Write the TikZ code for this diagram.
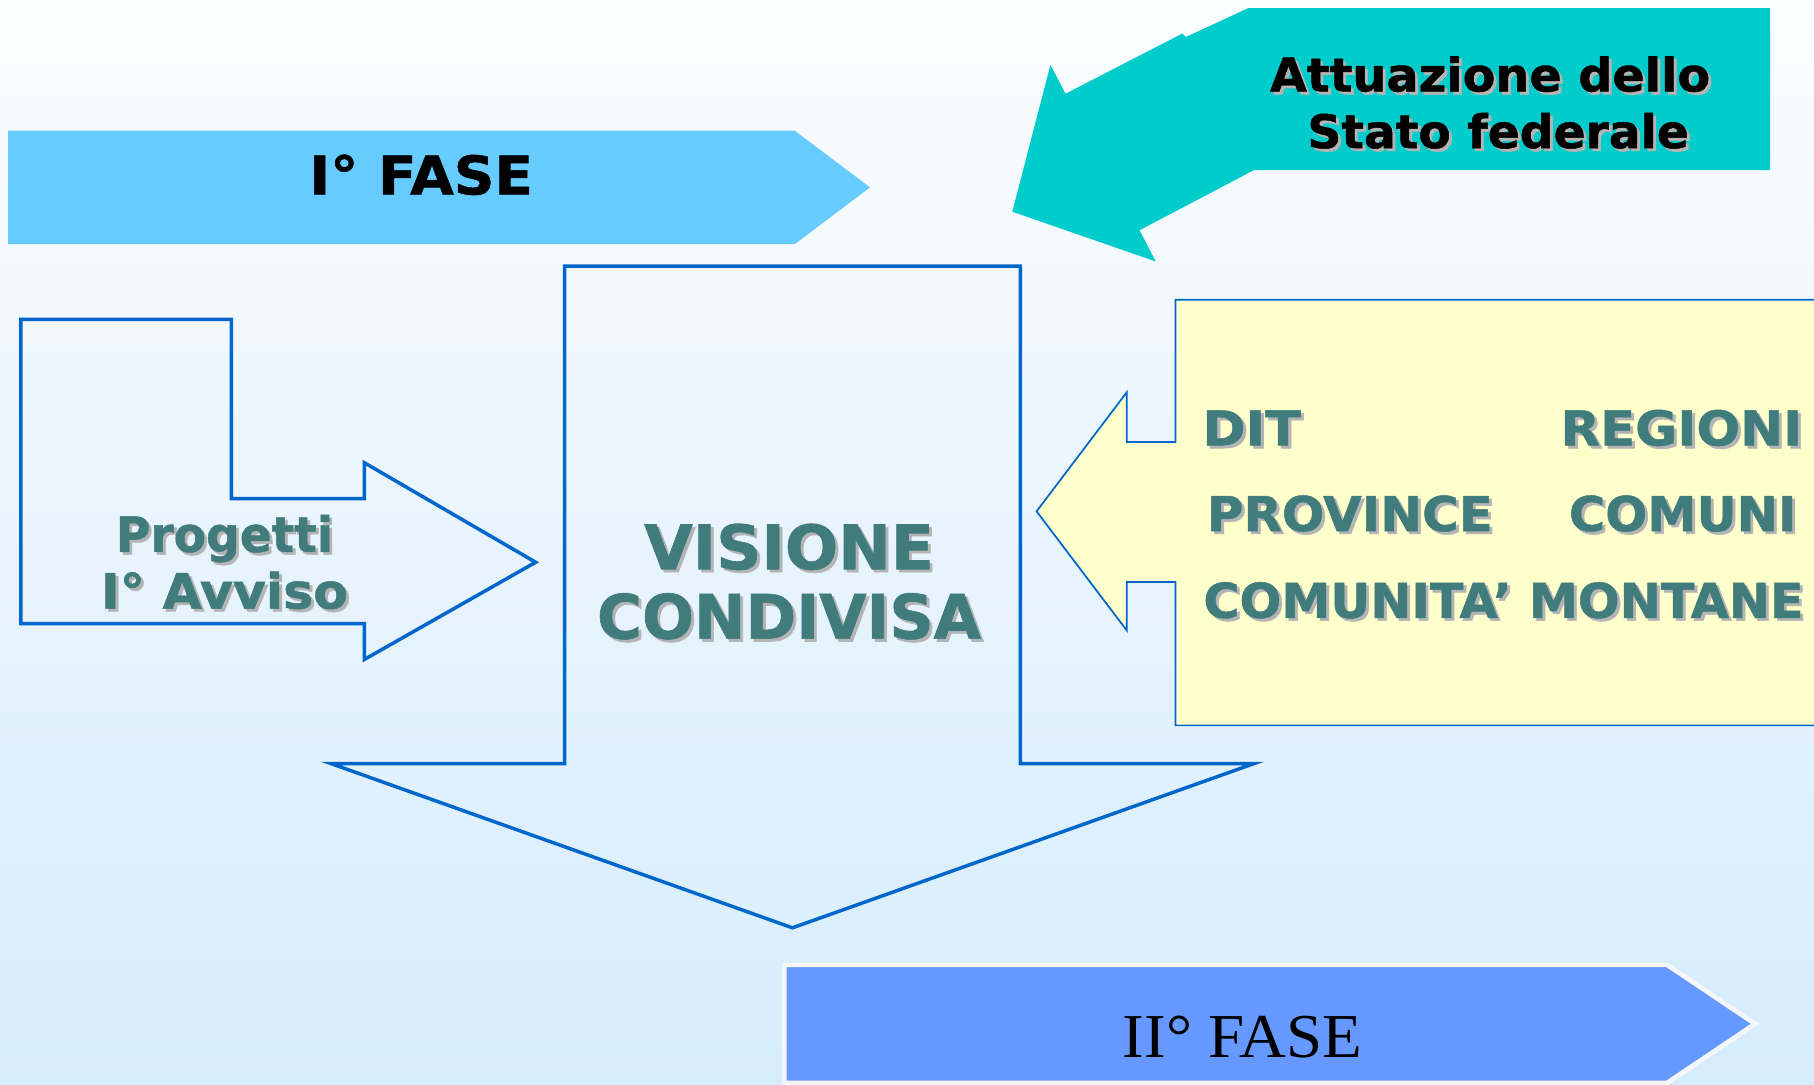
\documentclass[tikz,border=0pt]{standalone}
\usepackage{fontspec}
\setmainfont{DejaVu Sans}
\newfontfamily\vbold[FakeBold=1]{DejaVu Sans Bold}
\newfontfamily\timesf{Liberation Serif}
\definecolor{bgtop}{HTML}{FCFDFE}
\definecolor{bgbot}{HTML}{D5ECFD}
\definecolor{faseone}{HTML}{66CCFF}
\definecolor{fasetwo}{HTML}{6699FF}
\definecolor{cyanarrow}{HTML}{00CCCC}
\definecolor{yellowbox}{HTML}{FFFFCC}
\definecolor{bluestroke}{HTML}{0066CC}
\definecolor{tealtext}{HTML}{407C7C}
\definecolor{shcol}{HTML}{B4B4B4}
\definecolor{whiteborder}{HTML}{F4F6F8}
\newcommand{\shad}[2]{\scalebox{#1}[1]{\leavevmode\rlap{\kern2.5pt\raisebox{-2.5pt}{\color{shcol}#2}}#2}}
\begin{document}
\begin{tikzpicture}[x=1pt,y=-1pt,line join=miter,
  outlinearrow/.style={draw=bluestroke,line width=3pt},
  boldtxt/.style={inner sep=0pt},
  tealtxt/.style={boldtxt,text=tealtext}]
\useasboundingbox (0,0) rectangle (1568,937);
\shade[top color=bgtop,bottom color=bgbot] (0,0) rectangle (1568,937);

% I FASE
\fill[faseone] (7,113) -- (687,113) -- (752,162) -- (687,211) -- (7,211) -- cycle;
\node[boldtxt,anchor=base,font=\fontsize{46}{54}\vbold] (fase1txt) at (364,168) {\scalebox{1.06}[1]{I° FASE}};

% cyan arrow
\fill[cyanarrow] (1079,7) -- (1530,7) -- (1530,147) -- (1084,147) -- (985,199) -- (999,226)
  -- (875,183) -- (908,56) -- (921,81) -- (1022,29) -- (1025,32) -- cycle;
\node[boldtxt,anchor=base,font=\fontsize{40}{48}\vbold] (attl1) at (1288,79) {\shad{1.03}{Attuazione dello}};
\node[boldtxt,anchor=base,font=\fontsize{40}{48}\vbold] (attl2) at (1295,128) {\shad{1.02}{Stato federale}};

% yellow callout
\draw[fill=yellowbox,draw=bluestroke,line width=1.5pt] (1580,259) -- (1016,259) -- (1016,382) -- (974,382)
  -- (974,339) -- (896,442) -- (974,545) -- (974,503) -- (1016,503) -- (1016,627) -- (1580,627);
\node[tealtxt,anchor=base west,font=\fontsize{41.5}{48}\vbold] (dit) at (1039,385) {\shad{1.09}{DIT}};
\node[tealtxt,anchor=base east,font=\fontsize{41.5}{48}\vbold] (regioni) at (1558,385) {\shad{1.07}{REGIONI}};
\node[tealtxt,anchor=base west,font=\fontsize{41.5}{48}\vbold] (province) at (1043,459) {\shad{1.04}{PROVINCE}};
\node[tealtxt,anchor=base east,font=\fontsize{41.5}{48}\vbold] (comuni) at (1553,459) {\shad{1.03}{COMUNI}};
\node[tealtxt,anchor=base west,font=\fontsize{41.5}{48}\vbold] (comunita) at (1040,534) {\shad{1.025}{COMUNITA’ MONTANE}};

% big down arrow
\draw[outlinearrow] (488,230) -- (882,230) -- (882,660) -- (1084,660) -- (685,802) -- (286,660) -- (488,660) -- cycle;
\node[tealtxt,anchor=base,font=\fontsize{53}{62}\vbold] (vl1) at (682,492) {\shad{1.025}{VISIONE}};
\node[tealtxt,anchor=base,font=\fontsize{53}{62}\vbold] (vl2) at (682,552) {\shad{1.0}{CONDIVISA}};

% progetti arrow
\draw[outlinearrow] (18,276) -- (200,276) -- (200,431) -- (315,431) -- (315,400) -- (463,486) -- (315,570) -- (315,539) -- (18,539) -- cycle;
\node[tealtxt,anchor=base,font=\fontsize{42}{50}\vbold] (pl1) at (194,477) {\shad{0.97}{Progetti}};
\node[tealtxt,anchor=base,font=\fontsize{42}{50}\vbold] (pl2) at (194,526) {\shad{1.04}{I° Avviso}};

% II FASE
\draw[fill=fasetwo,draw=whiteborder,line width=4pt] (678,834) -- (1441,834) -- (1517,885) -- (1441,936) -- (678,936) -- cycle;
\node[inner sep=0pt,anchor=base,font=\fontsize{54}{60}\timesf] (fase2txt) at (1074,914) {\scalebox{1.04}[1]{II° FASE}};
\end{tikzpicture}
\end{document}
